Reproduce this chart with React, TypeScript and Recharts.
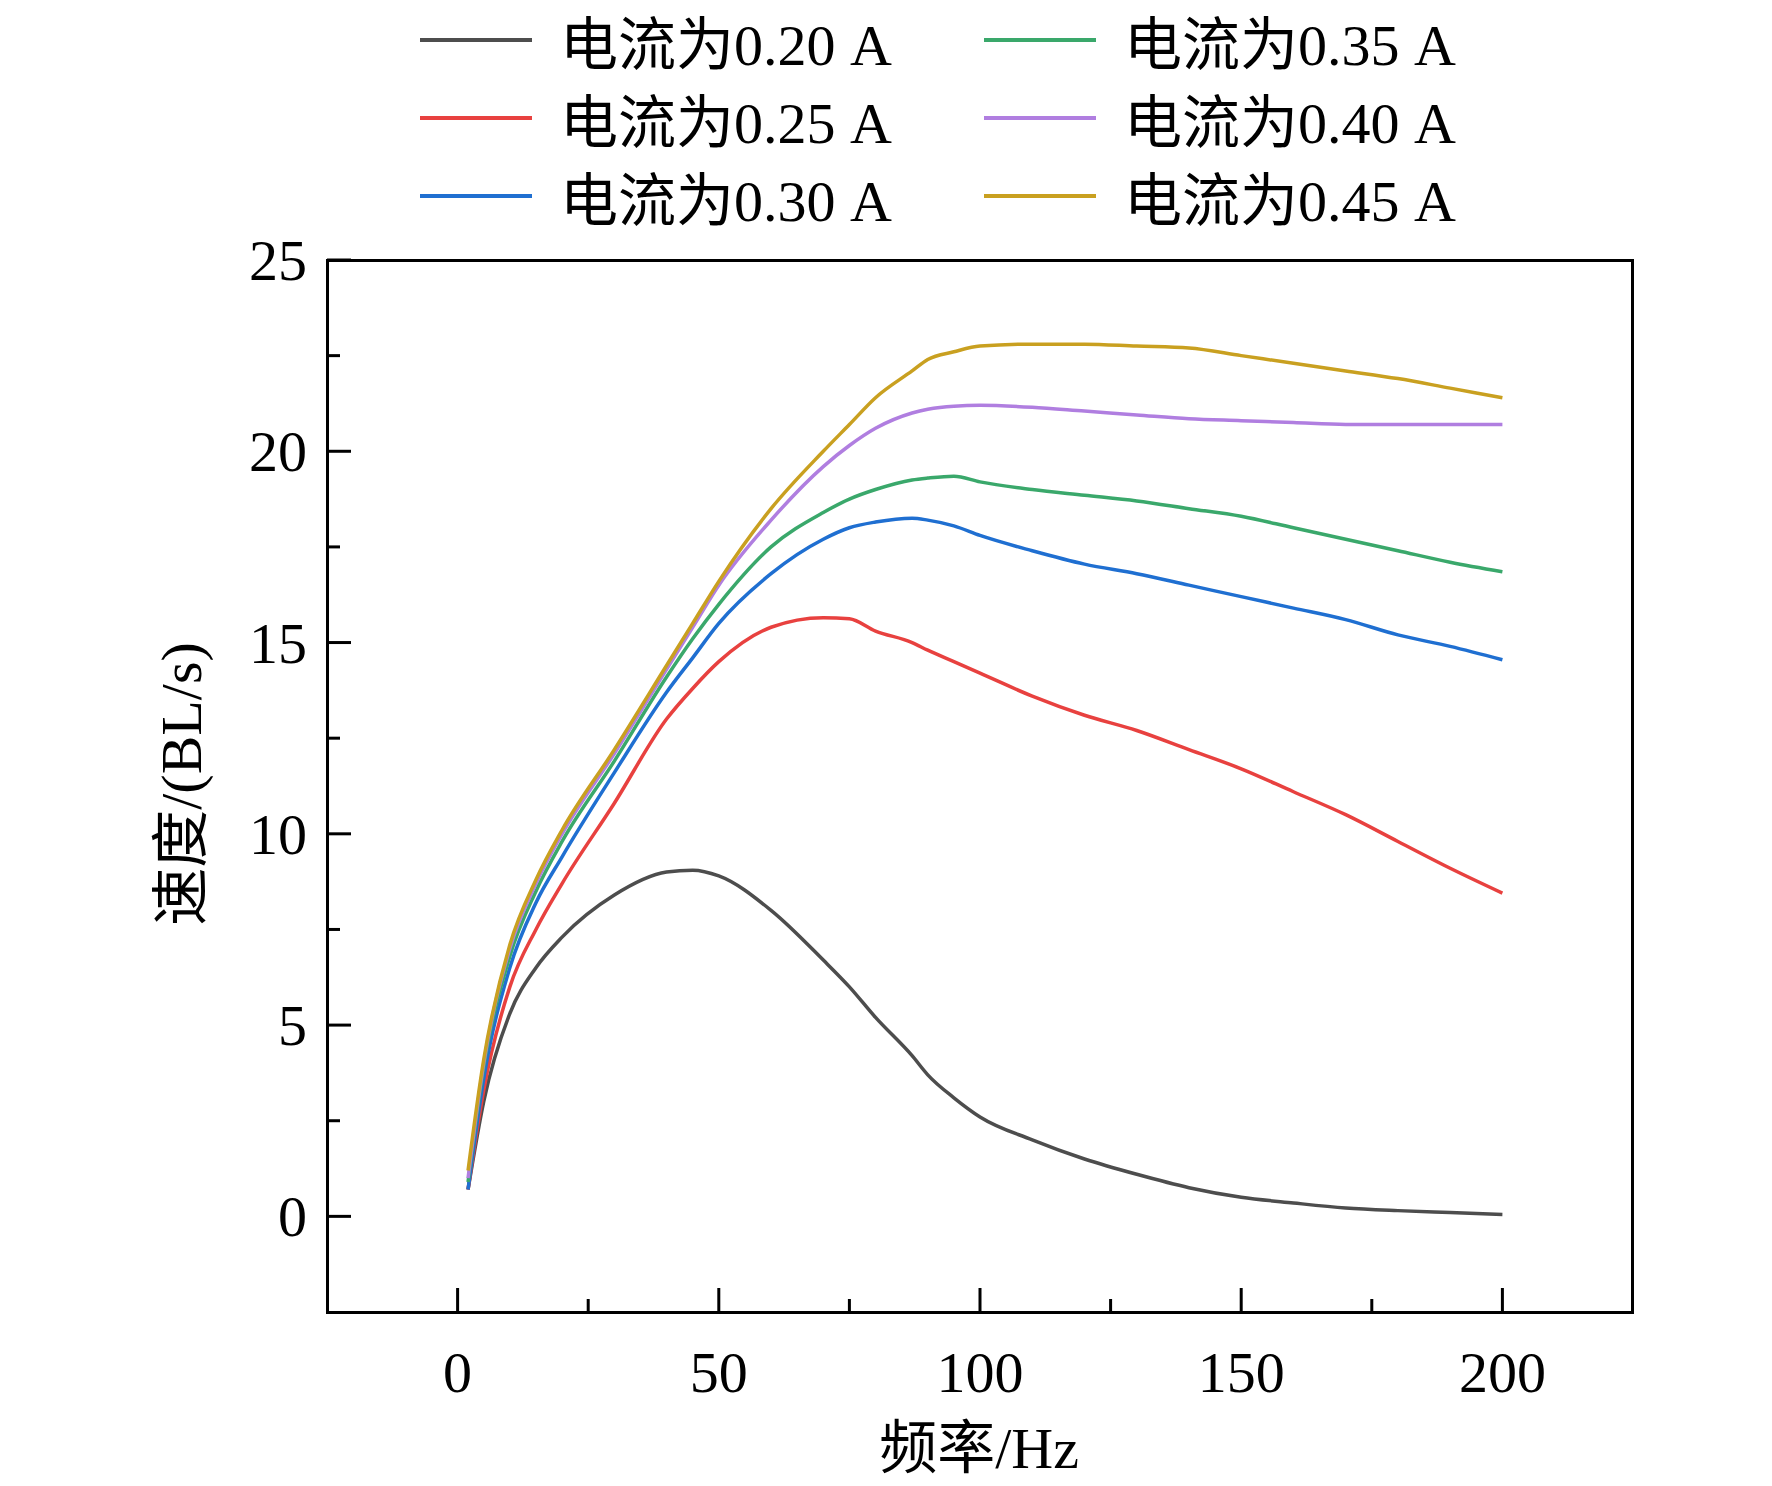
import React from 'react';
import { LineChart, Line, XAxis, YAxis } from 'recharts';

const freqs = [2, 5, 10, 15, 20, 30, 40, 45, 50, 60, 70, 75, 80, 87, 90, 95, 100, 110, 120, 130, 140, 150, 160, 170, 180, 190, 200];
const s020 = [0.7, 3.0, 5.3, 6.5, 7.3, 8.4, 9.0, 9.05, 8.9, 8.0, 6.7, 6.0, 5.2, 4.2, 3.7, 3.1, 2.6, 2.0, 1.5, 1.1, 0.75, 0.5, 0.35, 0.22, 0.15, 0.1, 0.05];
const s025 = [0.7, 3.3, 6.0, 7.5, 8.7, 10.8, 13.0, 13.8, 14.5, 15.4, 15.65, 15.62, 15.3, 15.0, 14.8, 14.5, 14.2, 13.6, 13.1, 12.7, 12.2, 11.7, 11.1, 10.5, 9.8, 9.1, 8.45];
const s030 = [0.7, 3.6, 6.5, 8.2, 9.4, 11.6, 13.7, 14.6, 15.5, 16.8, 17.7, 18.0, 18.15, 18.25, 18.2, 18.05, 17.8, 17.4, 17.05, 16.8, 16.5, 16.2, 15.9, 15.6, 15.2, 14.9, 14.55];
const s035 = [0.9, 3.9, 6.8, 8.5, 9.8, 11.9, 14.1, 15.1, 16.0, 17.5, 18.4, 18.75, 19.0, 19.25, 19.3, 19.35, 19.2, 19.0, 18.85, 18.7, 18.5, 18.3, 18.0, 17.7, 17.4, 17.1, 16.85];
const s040 = [1.0, 4.0, 7.0, 8.7, 10.0, 12.1, 14.3, 15.4, 16.5, 18.2, 19.6, 20.15, 20.6, 21.0, 21.1, 21.18, 21.2, 21.15, 21.05, 20.95, 20.85, 20.8, 20.75, 20.7, 20.7, 20.7, 20.7];
const s045 = [1.2, 4.1, 7.1, 8.8, 10.1, 12.2, 14.4, 15.5, 16.6, 18.5, 20.0, 20.7, 21.4, 22.1, 22.4, 22.6, 22.75, 22.8, 22.8, 22.75, 22.7, 22.5, 22.3, 22.1, 21.9, 21.65, 21.4];

const seriesDefs = [
  { key: 's020', label: '电流为0.20 A', color: '#4d4d4d', values: s020 },
  { key: 's025', label: '电流为0.25 A', color: '#e8413f', values: s025 },
  { key: 's030', label: '电流为0.30 A', color: '#1f6fd1', values: s030 },
  { key: 's035', label: '电流为0.35 A', color: '#3aa86b', values: s035 },
  { key: 's040', label: '电流为0.40 A', color: '#b07ee0', values: s040 },
  { key: 's045', label: '电流为0.45 A', color: '#c9a020', values: s045 },
];

const xTicks = [0, 25, 50, 75, 100, 125, 150, 175, 200];
const yTicks = [0, 2.5, 5, 7.5, 10, 12.5, 15, 17.5, 20, 22.5, 25];

const data = freqs.map((f, i) => {
  const row: any = { f };
  seriesDefs.forEach((s) => { row[s.key] = s.values[i]; });
  return row;
});

const FONT = '"Liberation Serif", "Noto Sans CJK SC", serif';

const XTick = (p: any) => {
  const { x, payload } = p;
  const y = 1312;
  const major = payload.value % 50 === 0;
  return (
    <g>
      <line x1={x} x2={x} y1={y} y2={y - (major ? 24 : 13)} stroke="#000" strokeWidth={3} />
      {major && (
        <text x={x} y={y + 80} textAnchor="middle" fontSize={58} fontFamily={FONT} fill="#000">{payload.value}</text>
      )}
    </g>
  );
};

const YTick = (p: any) => {
  const { y, payload } = p;
  const x = 327;
  const major = payload.value % 5 === 0;
  return (
    <g>
      <line x1={x} x2={x + (major ? 24 : 13)} y1={y} y2={y} stroke="#000" strokeWidth={3} />
      {major && (
        <text x={x - 20} y={y + 20} textAnchor="end" fontSize={58} fontFamily={FONT} fill="#000">{payload.value}</text>
      )}
    </g>
  );
};

export default function App() {
  const legendRows = [[0, 3], [1, 4], [2, 5]];
  return (
    <div style={{ position: 'absolute', left: 0, top: 0, width: 1772, height: 1486, background: '#fff', fontFamily: FONT }}>
      <LineChart width={1772} height={1486} data={data} margin={{ left: 326, right: 139, top: 260, bottom: 173 }}>
        <XAxis dataKey="f" type="number" domain={[-25, 225]} ticks={xTicks} height={1} axisLine={false} tickLine={false} tick={<XTick />} interval={0} />
        <YAxis type="number" domain={[-2.5, 25]} ticks={yTicks} width={1} axisLine={false} tickLine={false} tick={<YTick />} interval={0} />
        {seriesDefs.map((s) => (
          <Line key={s.key} dataKey={s.key} type="monotone" stroke={s.color} strokeWidth={3.5} dot={false} isAnimationActive={false} />
        ))}
      </LineChart>
      <div style={{ position: 'absolute', left: 326, top: 259, width: 1308, height: 1055, border: '3px solid #000', boxSizing: 'border-box', pointerEvents: 'none' }} />
      <span style={{ position: 'absolute', left: 979, top: 1409, transform: 'translateX(-50%)', whiteSpace: 'nowrap', fontSize: 58, lineHeight: '80px' }}>频率/Hz</span>
      <div style={{ position: 'absolute', left: 182, top: 784, transform: 'translate(-50%,-50%) rotate(-90deg)', fontSize: 58, whiteSpace: 'nowrap', lineHeight: '70px' }}>速度/(BL/s)</div>
      {legendRows.map((row, ri) => row.map((si, ci) => {
        const s = seriesDefs[si];
        const lx = ci === 0 ? 420 : 984;
        const cy = 40 + ri * 78;
        return (
          <div key={s.key} style={{ position: 'absolute', left: lx, top: cy - 40, height: 80, display: 'flex', alignItems: 'center', whiteSpace: 'nowrap' }}>
            <div style={{ width: 112, height: 4, background: s.color }} />
            <span style={{ marginLeft: 28, fontSize: 58 }}>{s.label}</span>
          </div>
        );
      }))}
    </div>
  );
}
